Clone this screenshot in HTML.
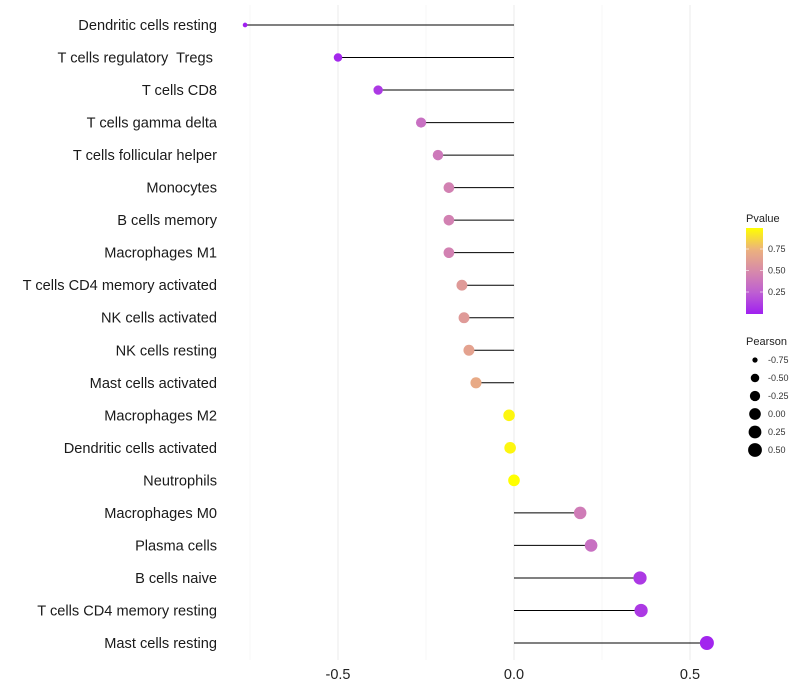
<!DOCTYPE html>
<html><head><meta charset="utf-8"><style>
body{margin:0;background:#fff;}
svg{display:block;font-family:"Liberation Sans",Arial,sans-serif;}
text{white-space:pre;}
</style></head><body>
<svg id="chart" width="800" height="700"></svg>
<script>
const categories=["Dendritic cells resting","T cells regulatory  Tregs ","T cells CD8","T cells gamma delta","T cells follicular helper","Monocytes","B cells memory","Macrophages M1","T cells CD4 memory activated","NK cells activated","NK cells resting","Mast cells activated","Macrophages M2","Dendritic cells activated","Neutrophils","Macrophages M0","Plasma cells","B cells naive","T cells CD4 memory resting","Mast cells resting"];
const pearson=[-0.764,-0.5,-0.386,-0.264,-0.216,-0.185,-0.185,-0.185,-0.148,-0.142,-0.128,-0.108,-0.014,-0.011,0.0,0.188,0.219,0.358,0.361,0.548];
const pvalues=[0.0,0.03,0.1,0.35,0.4,0.45,0.45,0.45,0.6,0.6,0.65,0.7,0.97,0.97,1.0,0.42,0.35,0.1,0.1,0.02];
const xTicks=[-0.5,0,0.5];
const xTickLabels=["-0.5","0.0","0.5"];
const xMinor=[-0.75,-0.25,0.25];
const pTicks=[0.25,0.5,0.75];
const sizeLegend=[-0.75,-0.5,-0.25,0,0.25,0.5];

const NS="http://www.w3.org/2000/svg";
const svg=document.getElementById('chart');
function mk(t,a,p){const e=document.createElementNS(NS,t);for(const k in a)e.setAttribute(k,a[k]);(p||svg).appendChild(e);return e;}
const xs=v=>514+352*v;
const ys=i=>25+i*(643-25)/(categories.length-1);
const rs=v=>2+5*Math.sqrt(Math.max(0,(v+0.77)/1.32));
const stops=[[0,[160,32,240]],[0.25,[190,95,210]],[0.5,[215,138,170]],[0.75,[236,178,125]],[1,[255,255,0]]];
function col(p){for(let i=1;i<stops.length;i++){if(p<=stops[i][0]){const a=stops[i-1],b=stops[i];const t=(p-a[0])/(b[0]-a[0]);const c=a[1].map((v,j)=>Math.round(v+(b[1][j]-v)*t));return `rgb(${c})`;}}return 'rgb(255,255,0)';}

xMinor.forEach(v=>{const l=mk('line',{x1:xs(v),x2:xs(v),y1:5,y2:660,stroke:'#f2f2f2','stroke-width':0.6});

});
xTicks.forEach((v,i)=>{const l=mk('line',{x1:xs(v),x2:xs(v),y1:5,y2:660,stroke:'#ebebeb','stroke-width':1});


const t=mk('text',{x:xs(v),y:679,'text-anchor':'middle','font-size':14.5,fill:'#222'});t.textContent=xTickLabels[i];

});

categories.forEach((c,i)=>{
const y=ys(i);
const t=mk('text',{x:217,y:y+5,'text-anchor':'end','font-size':14.6,fill:'#1a1a1a'});t.textContent=c;


const s=mk('line',{x1:xs(0),x2:xs(pearson[i]),y1:y,y2:y,stroke:'#000','stroke-width':1});


const d=mk('circle',{cx:xs(pearson[i]),cy:y,r:rs(pearson[i]),fill:col(pvalues[i])});


});

const lt=mk('text',{x:746,y:222,'font-size':11,fill:'#222'});lt.textContent='Pvalue';


const defs=mk('defs',{});const g=mk('linearGradient',{id:'pg',x1:0,y1:1,x2:0,y2:0},defs);
stops.forEach(s=>mk('stop',{offset:s[0],'stop-color':`rgb(${s[1]})`},g));
const bar=mk('rect',{x:746,y:228,width:17,height:86,fill:'url(#pg)'});


pTicks.forEach(p=>{const y=313.5-p*86;
mk('line',{x1:746,x2:749,y1:y,y2:y,stroke:'#fff','stroke-width':0.6});mk('line',{x1:760,x2:763,y1:y,y2:y,stroke:'#fff','stroke-width':0.6});
const t=mk('text',{x:768,y:y+3,'font-size':9,fill:'#333'});t.textContent=p.toFixed(2);

});

const st=mk('text',{x:746,y:345,'font-size':11,fill:'#222'});st.textContent='Pearson';


sizeLegend.forEach((v,i)=>{const y=360+i*18;
const c=mk('circle',{cx:755,cy:y,r:rs(v),fill:'#000'});


const t=mk('text',{x:768,y:y+3,'font-size':9,fill:'#333'});t.textContent=v.toFixed(2);

});
</script>
</body></html>
